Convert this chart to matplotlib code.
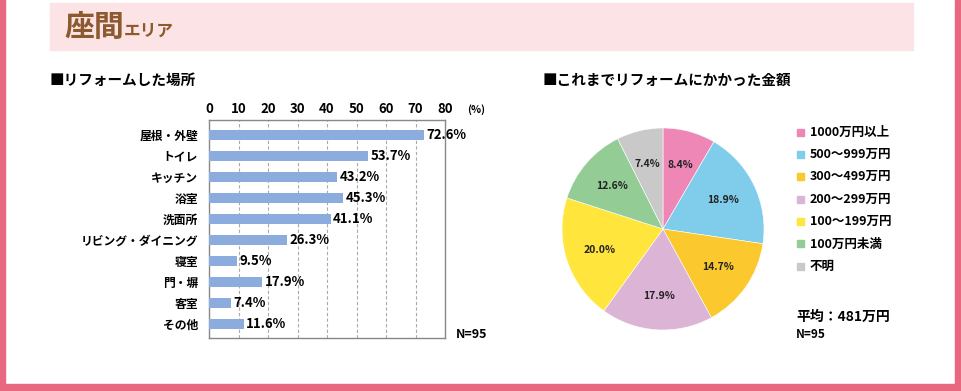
import matplotlib.pyplot as plt
from matplotlib.patches import Rectangle
import numpy as np

plt.rcParams['font.family'] = ['Noto Sans CJK JP', 'DejaVu Sans']

# bar chart data
places = ['屋根・外壁', 'トイレ', 'キッチン', '浴室', '洗面所', 'リビング・ダイニング',
          '寝室', '門・塀', '客室', 'その他']
place_pct = [72.6, 53.7, 43.2, 45.3, 41.1, 26.3, 9.5, 17.9, 7.4, 11.6]
x_ticks = [0, 10, 20, 30, 40, 50, 60, 70, 80]

# pie chart data
cost_labels = ['1000万円以上', '500～999万円', '300～499万円', '200～299万円',
               '100～199万円', '100万円未満', '不明']
cost_pct = [8.4, 18.9, 14.7, 17.9, 20.0, 12.6, 7.4]
cost_colors = ['#EE87B5', '#7FCDEB', '#FBC82D', '#DCB4D6', '#FFE53C', '#93CD95', '#C9C9C9']

W, H = 961, 391
fig = plt.figure(figsize=(W / 100, H / 100), dpi=100)
fig.patch.set_facecolor('white')


def fx(px):
    return px / W


def fy(py):
    return 1 - py / H


border = '#E8687F'
# frame
fig.patches.append(Rectangle((0, fy(390)), fx(5), 1 - fy(390), transform=fig.transFigure, color=border, zorder=0))
fig.patches.append(Rectangle((fx(955), fy(390)), fx(6), 1 - fy(390), transform=fig.transFigure, color=border, zorder=0))
fig.patches.append(Rectangle((0, fy(390)), 1, fy(384) - fy(390), transform=fig.transFigure, color=border, zorder=0))
# header band
fig.patches.append(Rectangle((fx(50), fy(50)), fx(913) - fx(50), fy(3) - fy(50), transform=fig.transFigure,
                             color='#FCE4E6', zorder=0))
fig.text(fx(64), fy(27), '座間', fontsize=21.5, fontweight='bold', color='#8C5A2E', va='center')
fig.text(fx(124), fy(31), 'エリア', fontsize=12, fontweight='bold', color='#8C5A2E', va='center')

fig.text(fx(50), fy(80), '■リフォームした場所', fontsize=10.5, fontweight='bold', va='center')
fig.text(fx(543), fy(80), '■これまでリフォームにかかった金額', fontsize=10.5, fontweight='bold', va='center')

# bar chart
ax = fig.add_axes([fx(209), fy(338), fx(445) - fx(209), fy(120.5) - fy(338)])
y = np.arange(len(places))
ax.barh(y, place_pct, height=0.48, color='#8BACDC', zorder=3, left=0.15)
for i, v in enumerate(place_pct):
    ax.text(v + 1.0, i, f'{v}%', va='center', ha='left', fontsize=9.5, fontweight='bold', zorder=4)
ax.set_xlim(0, 80)
ax.set_ylim(9.65, -0.68)
ax.set_yticks(y)
ax.set_yticklabels(places, fontsize=8.5, fontweight='bold')
ax.set_xticks(x_ticks)
ax.set_xticklabels([str(t) for t in x_ticks], fontsize=9.5, fontweight='bold')
ax.xaxis.tick_top()
ax.tick_params(axis='both', length=0)
ax.tick_params(axis='y', pad=8)
ax.tick_params(axis='x', pad=3)
for t in x_ticks[1:-1]:
    ax.axvline(t, color='#AAAAAA', lw=0.8, ls=(0, (3, 2)), zorder=1)
for s in ax.spines.values():
    s.set_color('#888888')
    s.set_linewidth(1)
fig.text(fx(467), fy(110), '(%)', fontsize=7.5, fontweight='bold', va='center')
fig.text(fx(456), fy(334), 'N=95', fontsize=9, fontweight='bold', va='center')

# pie chart
pax = fig.add_axes([fx(562), fy(330), fx(764) - fx(562), fy(128) - fy(330)])
wedges, _ = pax.pie(cost_pct, colors=cost_colors, startangle=90, counterclock=False,
                    wedgeprops=dict(linewidth=0.4, edgecolor='white'))
pax.set_xlim(-1, 1)
pax.set_ylim(-1, 1)
for w, v in zip(wedges, cost_pct):
    ang = np.deg2rad((w.theta1 + w.theta2) / 2)
    r = 0.66
    pax.text(r * np.cos(ang), r * np.sin(ang), f'{v}%', ha='center', va='center',
             fontsize=7.5, fontweight='bold', color='#222222')

# legend
for i, (lab, c) in enumerate(zip(cost_labels, cost_colors)):
    yy = 132 + i * 22.4
    fig.patches.append(Rectangle((fx(797), fy(yy + 3.5)), fx(7), fy(yy - 3.5) - fy(yy + 3.5),
                                 transform=fig.transFigure, color=c))
    fig.text(fx(810), fy(yy), lab, fontsize=9, fontweight='bold', va='center')

fig.text(fx(796), fy(317), '平均：481万円', fontsize=10, fontweight='bold', va='center')
fig.text(fx(796), fy(335), 'N=95', fontsize=8.5, fontweight='bold', va='center')

fig.savefig('out.png', dpi=100, facecolor='white')
